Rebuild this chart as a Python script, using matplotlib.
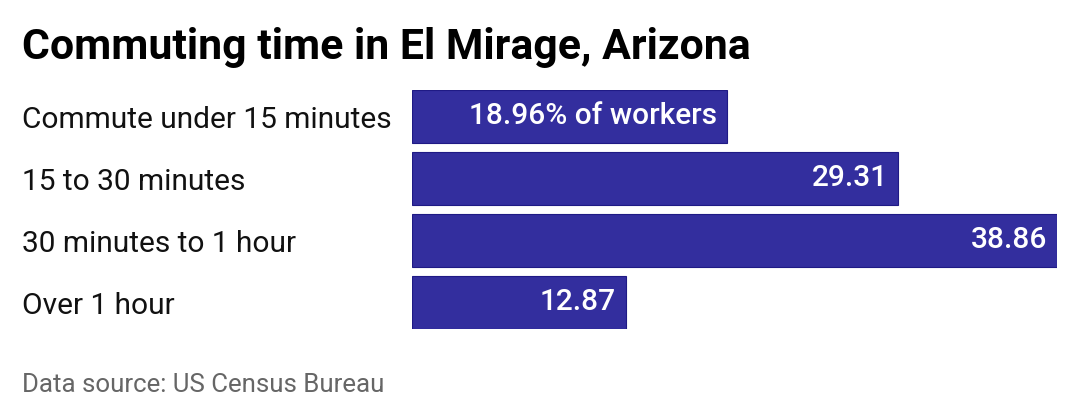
import matplotlib
matplotlib.use("Agg")
import matplotlib.pyplot as plt
from matplotlib.transforms import blended_transform_factory

categories = ["Commute under 15 minutes", "15 to 30 minutes", "30 minutes to 1 hour", "Over 1 hour"]
values = [18.96, 29.31, 38.86, 12.87]
value_labels = ["18.96% of workers", "29.31", "38.86", "12.87"]
title = "Commuting time in El Mirage, Arizona"
source = "Data source: US Census Bureau"

W, H = 1080, 420
fig = plt.figure(figsize=(W / 100, H / 100), dpi=100)
fig.patch.set_facecolor("white")

left_px, right_px = 412, 1057
top_px, bot_px = 90, 329
ax = fig.add_axes([left_px / W, (H - bot_px) / H, (right_px - left_px) / W, (bot_px - top_px) / H])

bar_h = 53 / 62
y = list(range(len(categories)))
ax.barh(y, values, height=bar_h, color="#332E9E", edgecolor="#1F1A85", linewidth=0.8)
ax.set_xlim(0, max(values))
ax.set_ylim(len(categories) - 1 + bar_h / 2, -bar_h / 2)
ax.axis("off")

font = "Roboto"
tr = blended_transform_factory(fig.transFigure, ax.transData)
for yi, cat in zip(y, categories):
    ax.text(22 / W, yi + 0.05, cat, transform=tr, ha="left", va="center", fontsize=21.5, family=font, color="#111111")

for yi, v, lab in zip(y, values, value_labels):
    ax.annotate(lab, xy=(v, yi), xytext=(-10, 0), textcoords="offset pixels", ha="right", va="center",
                fontsize=21.5, family=font, color="white", fontweight="medium")

fig.text(22 / W, 1 - 48 / H, title, ha="left", va="center", fontsize=30.8, family=font, fontweight="bold", color="#000000")
fig.text(22 / W, 1 - 385 / H, source, ha="left", va="center", fontsize=18.6, family=font, color="#666666")

fig.savefig("out.png", dpi=100, facecolor="white")
